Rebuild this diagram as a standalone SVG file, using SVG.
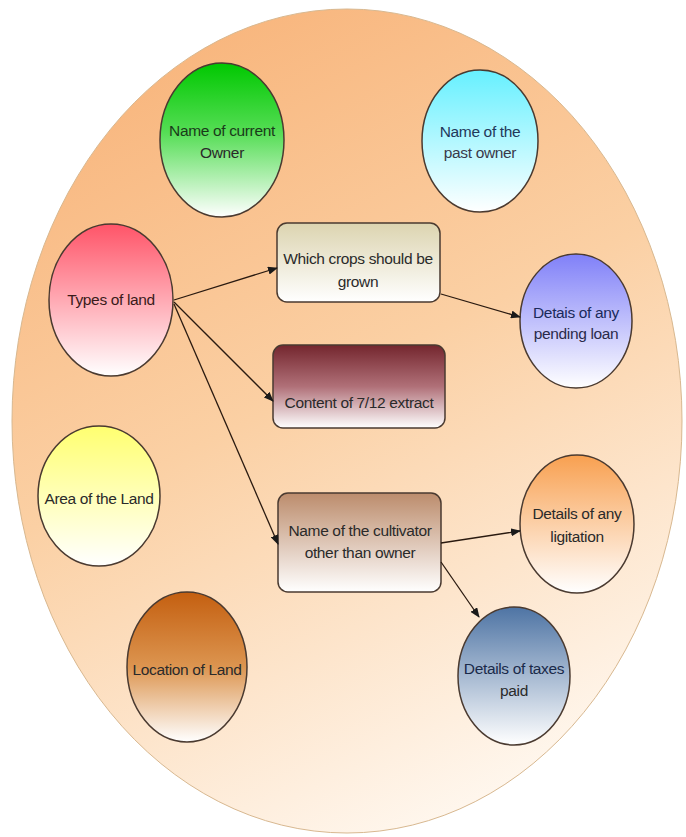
<svg xmlns="http://www.w3.org/2000/svg" width="686" height="837" viewBox="0 0 686 837">
<defs>
<linearGradient id="gBg" x1="0.3" y1="0" x2="0.7" y2="1"><stop offset="0" stop-color="#F8B57C"/><stop offset="0.45" stop-color="#FBD0A4"/><stop offset="1" stop-color="#FFF9F2"/></linearGradient>
<linearGradient id="gGreen" x1="0" y1="0" x2="0" y2="1"><stop offset="0" stop-color="#00C800"/><stop offset="0.45" stop-color="#55DD55"/><stop offset="1" stop-color="#FFFFFF"/></linearGradient>
<linearGradient id="gCyan" x1="0" y1="0" x2="0" y2="1"><stop offset="0" stop-color="#66F0FF"/><stop offset="1" stop-color="#FFFFFF"/></linearGradient>
<linearGradient id="gRed" x1="0" y1="0" x2="0" y2="1"><stop offset="0" stop-color="#FF5468"/><stop offset="1" stop-color="#FFFFFF"/></linearGradient>
<linearGradient id="gBlue" x1="0" y1="0" x2="0" y2="1"><stop offset="0" stop-color="#8080F8"/><stop offset="1" stop-color="#FFFFFF"/></linearGradient>
<linearGradient id="gYellow" x1="0" y1="0" x2="0" y2="1"><stop offset="0" stop-color="#FFFF70"/><stop offset="1" stop-color="#FFFFFF"/></linearGradient>
<linearGradient id="gBrown" x1="0" y1="0" x2="0" y2="1"><stop offset="0" stop-color="#C45F10"/><stop offset="0.5" stop-color="#DC9550"/><stop offset="1" stop-color="#FFFFFF"/></linearGradient>
<linearGradient id="gOrange" x1="0" y1="0" x2="0" y2="1"><stop offset="0" stop-color="#F8A050"/><stop offset="1" stop-color="#FFFFFF"/></linearGradient>
<linearGradient id="gSteel" x1="0" y1="0" x2="0" y2="1"><stop offset="0" stop-color="#4E74A4"/><stop offset="1" stop-color="#FFFFFF"/></linearGradient>
<linearGradient id="gBeige" x1="0" y1="0" x2="0" y2="1"><stop offset="0" stop-color="#DCD4B0"/><stop offset="1" stop-color="#FFFFFF"/></linearGradient>
<linearGradient id="gMaroon" x1="0" y1="0" x2="0" y2="1"><stop offset="0" stop-color="#74262E"/><stop offset="0.5" stop-color="#B07078"/><stop offset="1" stop-color="#FFFFFF"/></linearGradient>
<linearGradient id="gTan" x1="0" y1="0" x2="0" y2="1"><stop offset="0" stop-color="#BC8C6C"/><stop offset="1" stop-color="#FFFFFF"/></linearGradient>
<marker id="arr" markerWidth="10" markerHeight="8" refX="9" refY="4" orient="auto" markerUnits="userSpaceOnUse"><path d="M0,0 L10,4 L0,8 z" fill="#1a1a1a"/></marker>
</defs>
<style>
.n{stroke:#4a3a30;stroke-width:1.5}
.t{font-family:"Liberation Sans",Arial,sans-serif;font-size:15.5px;text-anchor:middle;letter-spacing:-0.35px;fill:#2a2a2a}
.c{stroke:#2a1a10;stroke-width:1.3;fill:none;marker-end:url(#arr)}
</style>
<rect width="686" height="837" fill="#FFFFFF"/>
<g id="background">
<ellipse cx="347" cy="421" rx="335" ry="412" fill="url(#gBg)" stroke="#D8B890" stroke-width="1"/>
</g>
<g id="current-owner">
<ellipse class="n" cx="222" cy="140" rx="62" ry="77" fill="url(#gGreen)"/>
<text class="t" x="222" y="136" style="fill:#1a3a1a">Name of current</text>
<text class="t" x="222" y="158">Owner</text>
</g>
<g id="past-owner">
<ellipse class="n" cx="480" cy="141" rx="58" ry="71" fill="url(#gCyan)"/>
<text class="t" x="480" y="137" style="fill:#23385a">Name of the</text>
<text class="t" x="480" y="158" style="fill:#3a3a4a">past owner</text>
</g>
<g id="types-of-land">
<ellipse class="n" cx="111" cy="300" rx="62" ry="76" fill="url(#gRed)"/>
<text class="t" x="111" y="305" style="fill:#3a1a1a">Types of land</text>
</g>
<g id="which-crops">
<rect class="n" x="277" y="223" width="163" height="79" rx="10" fill="url(#gBeige)"/>
<text class="t" x="358" y="264">Which crops should be</text>
<text class="t" x="358" y="287">grown</text>
</g>
<g id="pending-loan">
<ellipse class="n" cx="576" cy="321" rx="56" ry="67" fill="url(#gBlue)"/>
<text class="t" x="576" y="318" style="fill:#1a2a5a">Detais of any</text>
<text class="t" x="576" y="339" style="fill:#2a2a4a">pending loan</text>
</g>
<g id="content-712">
<rect class="n" x="273" y="345" width="172" height="83" rx="10" fill="url(#gMaroon)"/>
<text class="t" x="359" y="408">Content of 7/12 extract</text>
</g>
<g id="area-of-land">
<ellipse class="n" cx="99" cy="496" rx="61" ry="70" fill="url(#gYellow)"/>
<text class="t" x="99" y="504">Area of the Land</text>
</g>
<g id="cultivator">
<rect class="n" x="278" y="493" width="163" height="99" rx="10" fill="url(#gTan)"/>
<text class="t" x="360" y="536">Name of the cultivator</text>
<text class="t" x="360" y="558">other than owner</text>
</g>
<g id="litigation">
<ellipse class="n" cx="577" cy="524" rx="57" ry="69" fill="url(#gOrange)"/>
<text class="t" x="577" y="519">Details of any</text>
<text class="t" x="577" y="542">ligitation</text>
</g>
<g id="taxes-paid">
<ellipse class="n" cx="514" cy="676" rx="56" ry="69" fill="url(#gSteel)"/>
<text class="t" x="514" y="674" style="fill:#1a2a4a">Details of taxes</text>
<text class="t" x="514" y="696">paid</text>
</g>
<g id="location-of-land">
<ellipse class="n" cx="187" cy="667" rx="60" ry="75" fill="url(#gBrown)"/>
<text class="t" x="187" y="675">Location of Land</text>
</g>
<g id="connectors">
<line class="c" x1="174" y1="300" x2="277" y2="268"/>
<line class="c" x1="174" y1="302" x2="273" y2="401"/>
<line class="c" x1="174" y1="304" x2="278" y2="544"/>
<line class="c" x1="441" y1="294" x2="520" y2="317"/>
<line class="c" x1="441" y1="543" x2="520" y2="531"/>
<line class="c" x1="441" y1="562" x2="479" y2="617"/>
</g>
</svg>
